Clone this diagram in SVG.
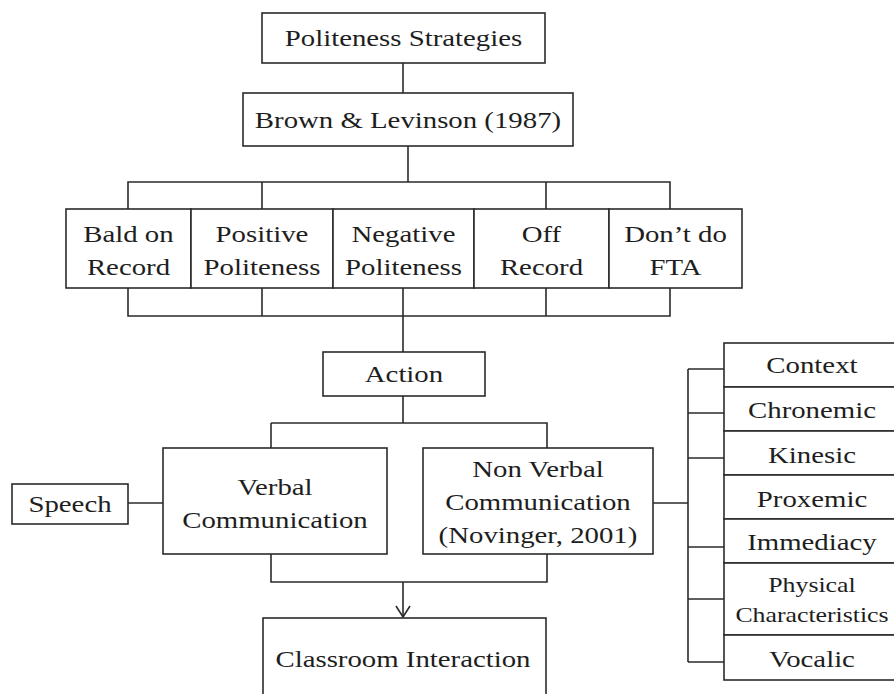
<svg xmlns="http://www.w3.org/2000/svg" width="894" height="694" viewBox="0 0 894 694">
<style>
.b{fill:#fff;stroke:#2b2b2b;stroke-width:1.6}
.c{fill:none;stroke:#2b2b2b;stroke-width:1.6}
text{font-family:"Liberation Serif","Times New Roman",serif;font-size:24px;fill:#1e1e1e;text-anchor:middle;transform-box:fill-box;transform-origin:center;transform:scaleX(1.2)}
.s{font-size:21.5px}
</style>
<rect width="894" height="694" fill="#fff"/>
<g id="connectors" class="c">
<path d="M403 63V93"/>
<path d="M408 146V182M128 209V182H670V209M262 182V209M546 182V209"/>
<path d="M128 288V316H670V288M262 288V316M403 288V352M546 288V316"/>
<path d="M403 396V423M271 423H547V448"/>
<path d="M271 423V448"/>
<path d="M128 503H163"/>
<path d="M653 503H688M688 369V662M688 369H724M688 413H724M688 458H724M688 547H724M688 599H724M688 662H724"/>
<path d="M271 554V582H547V554M403 582V617"/>
<path d="M396 606L403 617L410 606"/>
</g>
<g id="n-politeness"><rect class="b" x="262" y="13" width="283" height="50"/><text x="403.5" y="46">Politeness Strategies</text></g>
<g id="n-brown"><rect class="b" x="243" y="93" width="330" height="53"/><text x="408" y="128">Brown &amp; Levinson (1987)</text></g>
<g id="n-bald"><rect class="b" x="66" y="209" width="125" height="79"/><text x="128.5" y="242">Bald on</text><text x="128.5" y="275">Record</text></g>
<g id="n-positive"><rect class="b" x="191" y="209" width="142" height="79"/><text x="262" y="242">Positive</text><text x="262" y="275">Politeness</text></g>
<g id="n-negative"><rect class="b" x="333" y="209" width="141" height="79"/><text x="403.5" y="242">Negative</text><text x="403.5" y="275">Politeness</text></g>
<g id="n-off"><rect class="b" x="474" y="209" width="135" height="79"/><text x="541.5" y="242">Off</text><text x="541.5" y="275">Record</text></g>
<g id="n-dont"><rect class="b" x="609" y="209" width="133" height="79"/><text x="675.5" y="242">Don’t do</text><text x="675.5" y="275">FTA</text></g>
<g id="n-action"><rect class="b" x="323" y="352" width="162" height="44"/><text x="404" y="382">Action</text></g>
<g id="n-verbal"><rect class="b" x="163" y="448" width="224" height="106"/><text x="275" y="495">Verbal</text><text x="275" y="528">Communication</text></g>
<g id="n-nonverbal"><rect class="b" x="423" y="448" width="230" height="106"/><text x="538" y="477">Non Verbal</text><text x="538" y="510">Communication</text><text x="538" y="543">(Novinger, 2001)</text></g>
<g id="n-speech"><rect class="b" x="12" y="484" width="116" height="40"/><text x="70" y="512">Speech</text></g>
<g id="n-classroom"><rect class="b" x="263" y="618" width="283" height="90"/><text x="403" y="667">Classroom Interaction</text></g>
<g id="n-context"><rect class="b" x="724" y="343" width="180" height="44"/><text x="812" y="373">Context</text></g>
<g id="n-chronemic"><rect class="b" x="724" y="387" width="180" height="44"/><text x="812" y="418">Chronemic</text></g>
<g id="n-kinesic"><rect class="b" x="724" y="431" width="180" height="44"/><text x="812" y="463">Kinesic</text></g>
<g id="n-proxemic"><rect class="b" x="724" y="475" width="180" height="44"/><text x="812" y="507">Proxemic</text></g>
<g id="n-immediacy"><rect class="b" x="724" y="519" width="180" height="44"/><text x="812" y="550">Immediacy</text></g>
<g id="n-physical"><rect class="b" x="724" y="563" width="180" height="72"/><text class="s" x="812" y="592">Physical</text><text class="s" x="812" y="622">Characteristics</text></g>
<g id="n-vocalic"><rect class="b" x="724" y="635" width="180" height="45"/><text x="812" y="667">Vocalic</text></g>
</svg>
